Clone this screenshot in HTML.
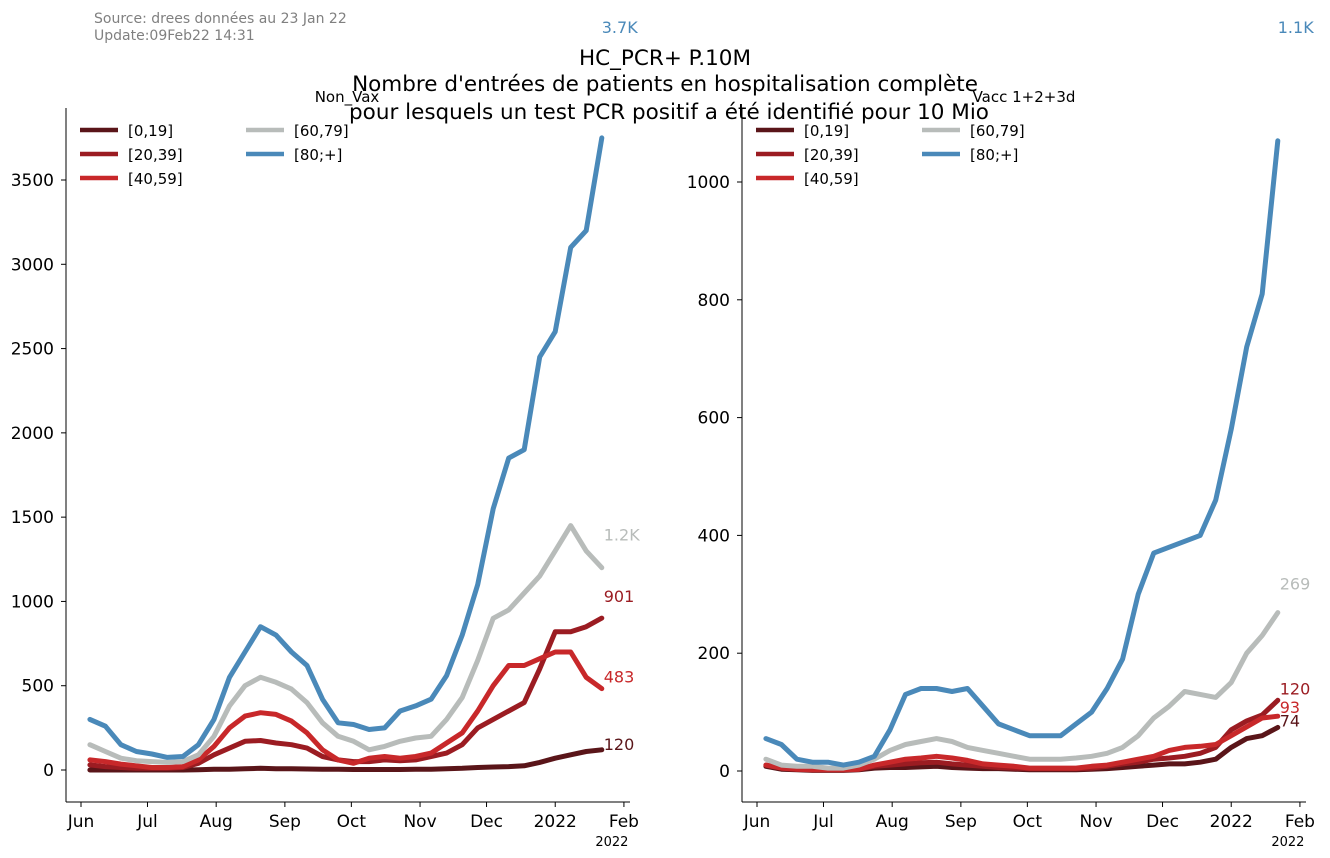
<!DOCTYPE html>
<html><head><meta charset="utf-8">
<style>
html,body{margin:0;padding:0;background:#fff;}
svg{display:block;font-family:"DejaVu Sans","Liberation Sans",sans-serif;}
</style></head>
<body>
<svg id="chart" width="1330" height="858" viewBox="0 0 1330 858">
<text x="94" y="23" font-size="14" fill="#808080">Source: drees données au 23 Jan 22</text>
<text x="94" y="40" font-size="14" fill="#808080">Update:09Feb22 14:31</text>
<text x="665" y="65" font-size="21.5" text-anchor="middle">HC_PCR+ P.10M</text>
<text x="665" y="91" font-size="21.5" text-anchor="middle">Nombre d'entrées de patients en hospitalisation complète</text>
<text x="669" y="119" font-size="21.5" text-anchor="middle">pour lesquels un test PCR positif a été identifié pour 10 Mio</text>
</svg>
<script>
const days = [4,11,18,25,32,39,46,53,60,67,74,81,88,95,102,109,116,123,130,137,144,151,158,165,172,179,186,193,200,207,214,221,228,235];
const groups = ["[0,19]","[20,39]","[40,59]","[60,79]","[80;+]"];
const monthLabels = ["Jun","Jul","Aug","Sep","Oct","Nov","Dec","2022","Feb"];
const monthDays = [0,30,61,92,122,153,183,214,245];
const leftTicks = [0,500,1000,1500,2000,2500,3000,3500];
const rightTicks = [0,200,400,600,800,1000];
const nv0 = [0,0,0,0,0,0,0,2,5,5,8,10,8,8,6,5,5,3,3,3,3,5,5,8,10,15,18,20,25,45,70,90,110,120];
const nv20 = [30,20,15,10,10,10,15,40,90,130,170,175,160,150,130,80,60,50,50,60,55,60,80,100,150,250,300,350,400,600,820,820,850,901];
const nv40 = [60,50,35,25,15,15,20,60,140,250,320,340,330,290,220,120,60,40,70,80,70,80,100,160,220,350,500,620,620,660,700,700,550,483];
const nv60 = [150,110,70,55,50,45,50,90,200,380,500,550,520,480,400,280,200,170,120,140,170,190,200,300,430,650,900,950,1050,1150,1300,1450,1300,1200];
const nv80 = [300,260,150,110,95,75,80,150,300,550,700,850,800,700,620,420,280,270,240,250,350,380,420,560,800,1100,1550,1850,1900,2450,2600,3100,3200,3750];
const va0 = [8,3,2,1,1,1,2,5,6,6,7,8,6,5,4,4,3,2,2,2,2,3,4,6,8,10,12,12,15,20,40,55,60,74];
const va20 = [10,5,3,2,2,2,3,8,10,12,14,15,12,10,8,6,5,4,4,4,4,5,8,12,15,20,22,25,30,40,70,85,95,120];
const va40 = [10,5,3,2,2,2,3,10,15,20,22,25,22,18,12,10,8,5,5,5,5,8,10,15,20,25,35,40,42,45,60,75,90,93];
const va60 = [20,10,8,8,5,5,10,20,35,45,50,55,50,40,35,30,25,20,20,20,22,25,30,40,60,90,110,135,130,125,150,200,230,269];
const va80 = [55,45,20,15,15,10,15,25,70,130,140,140,135,140,110,80,70,60,60,60,80,100,140,190,300,370,380,390,400,460,580,720,810,1070];
const leftEndLabels = ["120","901","483","1.2K","3.7K"];
const rightEndLabels = ["74","120","93","269","1.1K"];

const colors = ["#5a1519","#9b1c22","#c8282a","#b8bcba","#4a89b9"];
const NS = "http://www.w3.org/2000/svg";
const svg = document.getElementById("chart");
function mk(tag, attrs, parent){const e=document.createElementNS(NS,tag);for(const k in attrs)e.setAttribute(k,attrs[k]);(parent||svg).appendChild(e);return e;}

function panel(cfg){
  const g = mk("g",{});
  
  
  const xs = d => cfg.x0 + d*cfg.pxDay;
  const ys = v => cfg.yZero - v*cfg.pxUnit;
  const ax = mk("line",{x1:cfg.left,y1:108,x2:cfg.left,y2:802,stroke:"#000","stroke-width":1},g);
  
  
  const bx = mk("line",{x1:cfg.left,y1:802,x2:cfg.right,y2:802,stroke:"#000","stroke-width":1},g);
  
  
  cfg.ticks.forEach(t=>{
    const y=ys(t);
    mk("line",{x1:cfg.left-5,y1:y,x2:cfg.left,y2:y,stroke:"#000"},g);
    const tx=mk("text",{x:cfg.left-12,y:y+6,"font-size":17,"text-anchor":"end"},g);
    tx.textContent=t;
    
    
  });
  monthDays.forEach((d,i)=>{
    const x=xs(d);
    mk("line",{x1:x,y1:802,x2:x,y2:807,stroke:"#000"},g);
    const tx=mk("text",{x:x,y:827,"font-size":17,"text-anchor":"middle"},g);
    tx.textContent=monthLabels[i];
    
    
  });
  const yr=mk("text",{x:xs(245)-12,y:846,"font-size":13,"text-anchor":"middle"},g);
  yr.textContent="2022";
  
  
  const tt=mk("text",{x:cfg.titleX,y:102,"font-size":15,"text-anchor":"middle"},g);
  tt.textContent=cfg.title;
  
  
  cfg.series.forEach((arr,si)=>{
    const pts = arr.map((v,i)=>xs(days[i]).toFixed(1)+","+ys(v).toFixed(1)).join(" ");
    const pl = mk("polyline",{points:pts,fill:"none",stroke:colors[si],"stroke-width":5,"stroke-linejoin":"round","stroke-linecap":"round"},g);
    
    
  });
  cfg.series.forEach((arr,si)=>{
    const v = arr[arr.length-1];
    let y = ys(v) - 10 + (cfg.labelDy[si]||0);
    if(si===4) y = 33;
    const lb = mk("text",{x:xs(days[days.length-1])+(si===4?0:2),y:y,"font-size":16,fill:colors[si]},g);
    lb.textContent=cfg.endLabels[si];
    
    
  });
  const lx=cfg.left+14, pos=[[0,0],[0,1],[0,2],[1,0],[1,1]];
  groups.forEach((gname,i)=>{
    const cx=lx+pos[i][0]*166, cy=130+pos[i][1]*24;
    const le=mk("g",{},g);
    
    
    mk("line",{x1:cx,y1:cy,x2:cx+38,y2:cy,stroke:colors[i],"stroke-width":4.5},le);
    const t=mk("text",{x:cx+48,y:cy+6,"font-size":15},le);
    t.textContent=gname;
  });
}
panel({name:"non-vax-panel",title:"Non_Vax",titleX:347,left:66,right:630,x0:81,pxDay:2.216,yZero:770,pxUnit:0.16857,ticks:leftTicks,
  series:[nv0,nv20,nv40,nv60,nv80],endLabels:leftEndLabels,labelDy:[10,-6,4,-17,0]});
panel({name:"vacc-panel",title:"Vacc 1+2+3d",titleX:1024,left:742,right:1306,x0:757,pxDay:2.216,yZero:771,pxUnit:0.589,ticks:rightTicks,
  series:[va0,va20,va40,va60,va80],endLabels:rightEndLabels,labelDy:[9,4,7,-13,0]});
</script>
</body></html>
